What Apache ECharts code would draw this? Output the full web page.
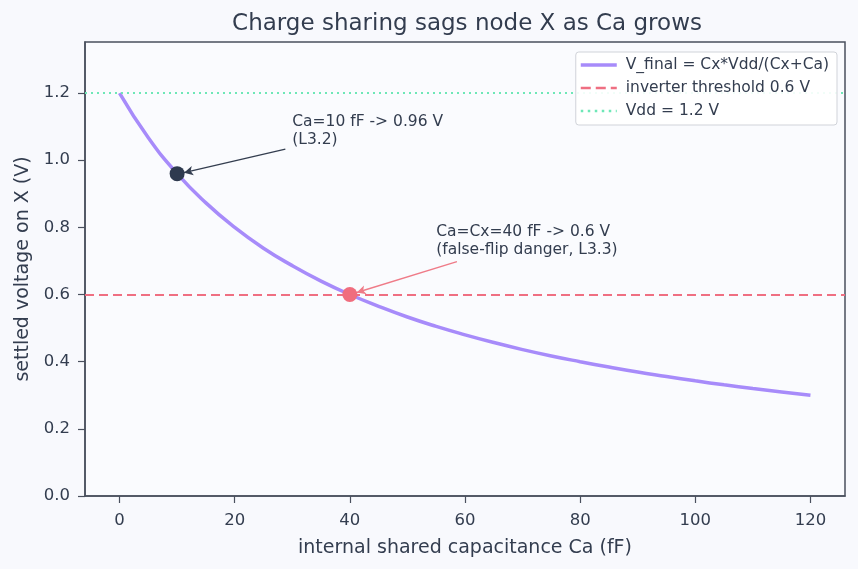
<!DOCTYPE html>
<html>
<head>
<meta charset="utf-8">
<script src="https://cdn.jsdelivr.net/npm/echarts@6/dist/echarts.min.js"></script>
<style>
  html, body { margin: 0; padding: 0; background: #f8f9fd; }
  #main { width: 858px; height: 569px; }
</style>
</head>
<body>
<div id="main"></div>
<script>
// values
const caValues = [0, 5, 10, 15, 20, 25, 30, 35, 40, 45, 50, 55, 60, 65, 70, 75, 80, 85, 90, 95, 100, 105, 110, 115, 120];
const vFinal = [1.2, 1.067, 0.96, 0.873, 0.8, 0.738, 0.686, 0.64, 0.6, 0.565, 0.533, 0.505, 0.48, 0.457, 0.436, 0.417, 0.4, 0.384, 0.369, 0.356, 0.343, 0.331, 0.32, 0.31, 0.3];
const thresholdV = 0.6;
const vdd = 1.2;
const xTicks = [0, 20, 40, 60, 80, 100, 120];
const yTicks = [0, 0.2, 0.4, 0.6, 0.8, 1.0, 1.2];
const pointA = [10, 0.96];
const pointB = [40, 0.6];
const noteA = { text: 'Ca=10 fF -> 0.96 V\n(L3.2)', at: [30, 1.032], tail: [28.8, 1.033], head: [11.2, 0.963] };
const noteB = { text: 'Ca=Cx=40 fF -> 0.6 V\n(false-flip danger, L3.3)', at: [55, 0.707], tail: [58.6, 0.698], head: [41.2, 0.606] };

const ink = '#333d4f';
const frame = '#4a505e';
const purple = '#a78bfa';
const red = '#ef6f82';
const green = '#6ee7b7';
const font = 'DejaVu Sans';

const chart = echarts.init(document.getElementById('main'));

function noteSeries(note, color, width) {
  return {
    type: 'scatter',
    silent: true,
    symbolSize: 0,
    z: 5,
    itemStyle: { opacity: 1 },
    data: [note.at],
    label: {
      show: true,
      position: [0, 0],
      align: 'left',
      verticalAlign: 'bottom',
      formatter: note.text,
      fontSize: 15.5,
      lineHeight: 18,
      color: ink,
      opacity: 1,
      fontFamily: font
    },
    markLine: {
      silent: true,
      symbol: ['none', 'arrow'],
      symbolSize: [7, 9],
      label: { show: false },
      lineStyle: { color: color, type: 'solid', width: width, opacity: 1 },
      data: [[{ coord: note.tail }, { coord: note.head }]]
    }
  };
}

chart.setOption({
  backgroundColor: '#f8f9fd',
  animation: false,
  textStyle: { fontFamily: font, color: ink },
  title: {
    text: 'Charge sharing sags node X as Ca grows',
    left: 462,
    textAlign: 'center',
    top: 8,
    textStyle: { fontSize: 23, fontWeight: 'normal', color: ink, fontFamily: font }
  },
  legend: {
    orient: 'vertical',
    right: 21,
    top: 52,
    z: 20,
    padding: [5, 8, 6, 5],
    itemGap: 7,
    itemWidth: 36,
    itemHeight: 14,
    backgroundColor: 'rgba(255,255,255,0.9)',
    borderColor: '#d0d3d9',
    borderWidth: 1,
    borderRadius: 3,
    textStyle: { fontSize: 15.5, color: ink, fontFamily: font, padding: [0, 0, 0, 4] },
    data: [
      { name: 'V_final = Cx*Vdd/(Cx+Ca)', icon: 'path://M0,5 L36,5 L36,8.5 L0,8.5 Z' },
      { name: 'inverter threshold 0.6 V', icon: 'path://M0,5 L10,5 L10,7.5 L0,7.5 Z M15,5 L25,5 L25,7.5 L15,7.5 Z M30,5 L36,5 L36,7.5 L30,7.5 Z' },
      { name: 'Vdd = 1.2 V', icon: 'path://M0,5 h2.5 v2.5 h-2.5 Z M7,5 h2.5 v2.5 h-2.5 Z M14,5 h2.5 v2.5 h-2.5 Z M21,5 h2.5 v2.5 h-2.5 Z M28,5 h2.5 v2.5 h-2.5 Z M35,5 h1 v2.5 h-1 Z' }
    ]
  },
  grid: {
    left: 85, right: 13, top: 42, bottom: 73,
    show: true,
    borderColor: frame,
    borderWidth: 1.5,
    backgroundColor: '#fafbfe'
  },
  xAxis: {
    type: 'value',
    min: -6,
    max: 126,
    name: 'internal shared capacitance Ca (fF)',
    nameLocation: 'middle',
    nameGap: 43,
    nameTextStyle: { fontSize: 19, color: ink, fontFamily: font },
    axisLine: { show: true, onZero: false, lineStyle: { color: frame, width: 1.5 } },
    axisTick: { show: true, length: 7, customValues: xTicks, lineStyle: { color: frame, width: 1.2 } },
    axisLabel: { customValues: xTicks, fontSize: 16.5, color: ink, margin: 16, fontFamily: font },
    splitLine: { show: false }
  },
  yAxis: {
    type: 'value',
    min: 0,
    max: 1.352,
    name: 'settled voltage on X (V)',
    nameLocation: 'middle',
    nameGap: 52,
    nameTextStyle: { fontSize: 19, color: ink, fontFamily: font },
    axisLine: { show: true, onZero: false, lineStyle: { color: frame, width: 1.5 } },
    axisTick: { show: true, length: 7, customValues: yTicks, lineStyle: { color: frame, width: 1.2 } },
    axisLabel: { customValues: yTicks, fontSize: 16.5, color: ink, margin: 15, fontFamily: font, formatter: v => v.toFixed(1) },
    splitLine: { show: false }
  },
  series: [
    {
      name: 'V_final = Cx*Vdd/(Cx+Ca)',
      type: 'line',
      smooth: true,
      showSymbol: false,
      color: purple,
      lineStyle: { color: purple, width: 3.5 },
      z: 3,
      data: caValues.map((c, i) => [c, vFinal[i]])
    },
    {
      name: 'inverter threshold 0.6 V',
      type: 'line',
      color: red,
      data: [],
      markLine: {
        silent: true,
        symbol: ['none', 'none'],
        label: { show: false },
        lineStyle: { color: red, type: [9, 5], width: 2.2 },
        data: [{ yAxis: thresholdV }]
      }
    },
    {
      name: 'Vdd = 1.2 V',
      type: 'line',
      color: green,
      data: [],
      markLine: {
        silent: true,
        symbol: ['none', 'none'],
        label: { show: false },
        lineStyle: { color: green, type: [2, 4], width: 2.2 },
        data: [{ yAxis: vdd }]
      }
    },
    {
      type: 'scatter',
      silent: true,
      symbolSize: 15,
      z: 6,
      itemStyle: { color: '#2e3a4f', opacity: 1 },
      data: [pointA]
    },
    {
      type: 'scatter',
      silent: true,
      symbolSize: 15,
      z: 6,
      itemStyle: { color: '#f06d7e', opacity: 1 },
      data: [pointB]
    },
    noteSeries(noteA, '#333d4f', 1.5),
    noteSeries(noteB, '#ef7b88', 1.4)
  ]
});
</script>
</body>
</html>
